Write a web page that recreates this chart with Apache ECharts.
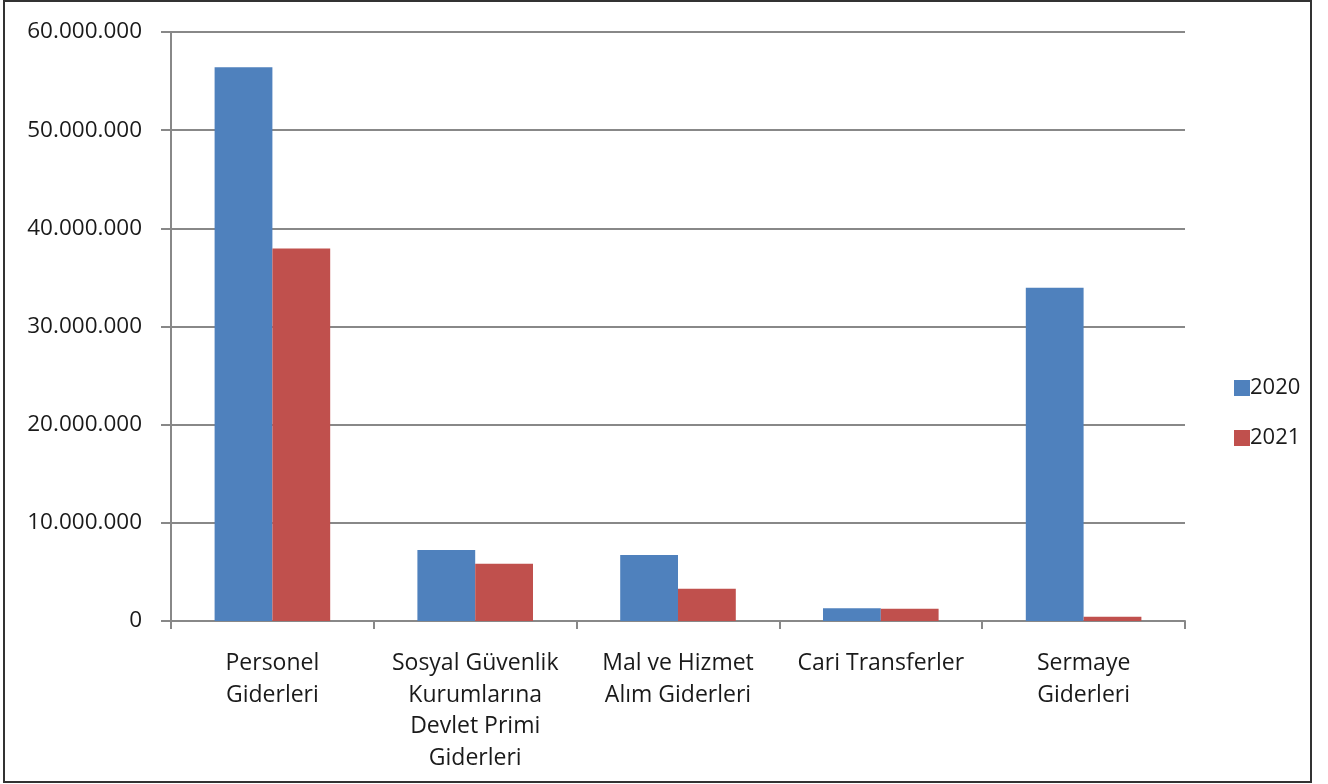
<!DOCTYPE html>
<html>
<head>
<meta charset="utf-8">
<script src="https://cdn.jsdelivr.net/npm/echarts@6/dist/echarts.min.js"></script>
<style>
html,body{margin:0;padding:0;background:#fff;}
#c{width:1328px;height:784px;}
</style>
</head>
<body>
<div id="c"></div>
<script>
const categories = [
  "Personel\nGiderleri",
  "Sosyal Güvenlik\nKurumlarına\nDevlet Primi\nGiderleri",
  "Mal ve Hizmet\nAlım Giderleri",
  "Cari Transferler",
  "Sermaye\nGiderleri"
];
const seriesNames = ["2020", "2021"];
const values2020 = [56400000, 7230000, 6720000, 1290000, 33950000];
const values2021 = [37950000, 5840000, 3290000, 1250000, 440000];
const yTicks = [0, 10000000, 20000000, 30000000, 40000000, 50000000, 60000000];

const FONT = "'Open Sans', Lato, sans-serif";
function fmt(v){ return String(v).replace(/\B(?=(\d{3})+(?!\d))/g, "."); }

const chart = echarts.init(document.getElementById('c'), null, {renderer:'canvas'});
chart.setOption({
  animation:false,
  backgroundColor:'#fff',
  graphic:[{
    type:'rect', shape:{x:4, y:1, width:1307, height:781},
    style:{fill:'none', stroke:'#333', lineWidth:2}, silent:true
  }],
  grid:{left:171, top:32, right:143, bottom:163, containLabel:false},
  legend:{
    orient:'vertical', left:1229, top:372,
    itemWidth:16, itemHeight:16, itemGap:28,
    icon:'rect',
    textStyle:{fontFamily:FONT, fontSize:22, color:'#1a1a1a', padding:[0,0,0,-5]},
    data:seriesNames
  },
  xAxis:{
    type:'category', data:categories,
    axisLine:{lineStyle:{color:'#888', width:2}},
    axisTick:{show:true, length:8, lineStyle:{color:'#888', width:2}},
    axisLabel:{fontFamily:FONT, fontSize:23, color:'#1a1a1a', lineHeight:31.5, margin:27, interval:0}
  },
  yAxis:{
    type:'value', min:yTicks[0], max:yTicks[yTicks.length-1], interval:yTicks[1]-yTicks[0],
    axisLine:{show:true, lineStyle:{color:'#888', width:2}},
    axisTick:{show:true, length:10, inside:false, lineStyle:{color:'#888', width:2}},
    splitLine:{lineStyle:{color:'#888', width:2}},
    axisLabel:{fontFamily:FONT, fontSize:22.5, color:'#1a1a1a', margin:29, formatter:fmt}
  },
  series:[
    {name:seriesNames[0], type:'bar', data:values2020, barGap:'0%', barCategoryGap:'43%',
     itemStyle:{color:'#4F81BD'}},
    {name:seriesNames[1], type:'bar', data:values2021, barGap:'0%', barCategoryGap:'43%',
     itemStyle:{color:'#C0504D'}}
  ]
});
</script>
</body>
</html>
